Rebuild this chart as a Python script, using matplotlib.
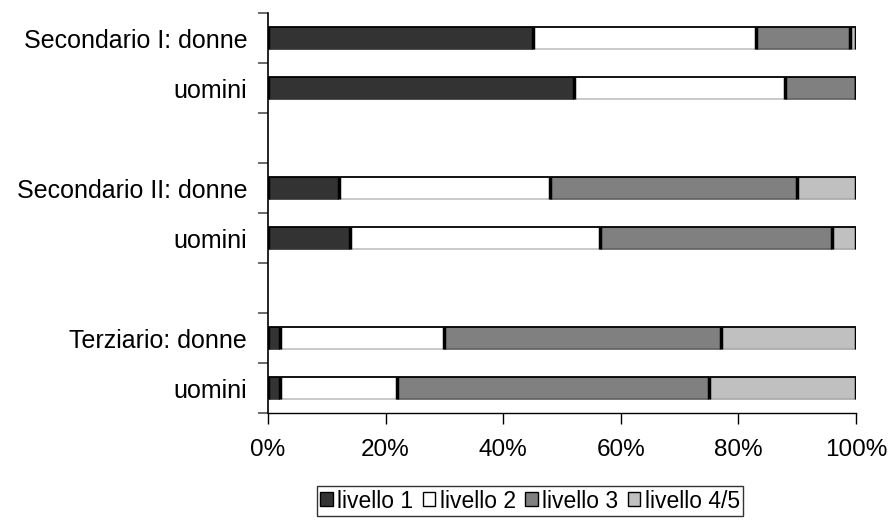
import matplotlib
matplotlib.use("Agg")
import matplotlib.pyplot as plt
import numpy as np

plt.rcParams['font.family'] = ['Liberation Sans', 'DejaVu Sans']

# Category slots (top to bottom); empty strings are spacer slots
categories = ["Secondario I: donne", "uomini", "",
              "Secondario II: donne", "uomini", "",
              "Terziario: donne", "uomini"]
series_names = ["livello 1", "livello 2", "livello 3", "livello 4/5"]
# Percentages per slot (None = spacer)
livello_1 = [45, 52, None, 12, 14, None, 2, 2]
livello_2 = [38, 36, None, 36, 42.5, None, 28, 20]
livello_3 = [16, 12, None, 42, 39.5, None, 47, 53]
livello_45 = [1, 0, None, 10, 4, None, 23, 25]
colors = ["#333333", "#ffffff", "#808080", "#c0c0c0"]
shade = ["#333333", "#c0c0c0", "#606060", "#a8a8a8"]
x_ticks = [0, 20, 40, 60, 80, 100]
x_labels = ["0%", "20%", "40%", "60%", "80%", "100%"]

fig = plt.figure(figsize=(8.93, 5.29), dpi=100)
ax = fig.add_axes([268 / 893, 1 - 413 / 529, (856 - 268) / 893, 400 / 529])

n = len(categories)
ypos = np.arange(n)
bar_h = 0.44
series = [livello_1, livello_2, livello_3, livello_45]
left = np.zeros(n)
handles = []
for name, vals, col, sh in zip(series_names, series, colors, shade):
    idx = [i for i, v in enumerate(vals) if v is not None]
    w = np.array([vals[i] for i in idx], dtype=float)
    y = ypos[idx]
    b = ax.barh(y, w, left=left[idx], height=bar_h, color=col,
                edgecolor="none", label=name, zorder=2)
    # lower edge of each segment in a darker shade of its fill
    ax.hlines(y + bar_h / 2, left[idx], left[idx] + w, color=sh, lw=1.2, zorder=3)
    left[idx] += w
    # dark separator at the right end of each segment
    ax.vlines(left[idx], y - bar_h / 2, y + bar_h / 2, color="black", lw=2.5, zorder=4)
    handles.append(b)

bars_idx = [i for i, c in enumerate(categories) if c]
ax.hlines(ypos[bars_idx] - bar_h / 2, 0, left[bars_idx], color="black", lw=1.3, zorder=4)
ax.vlines(np.zeros(len(bars_idx)), ypos[bars_idx] - bar_h / 2, ypos[bars_idx] + bar_h / 2,
          color="black", lw=2.5, zorder=4)

ax.set_xlim(0, 100)
ax.set_ylim(n - 0.5, -0.5)
ax.set_xticks(x_ticks)
ax.set_xticklabels(x_labels, fontsize=17.5)
ax.set_yticks(ypos)
ax.set_yticklabels(categories, fontsize=18)
ax.tick_params(axis="y", length=0, pad=15)
ax.set_yticks(np.arange(-0.5, n, 1.0), minor=True)
ax.tick_params(axis="y", which="minor", length=7, width=1.2, color="#505050", direction="out")
ax.tick_params(axis="x", length=8, width=1, color="black", direction="out", pad=11)
for s in ["top", "right"]:
    ax.spines[s].set_visible(False)
ax.spines["left"].set_color("black")
ax.spines["left"].set_linewidth(1.2)
ax.spines["bottom"].set_color("black")
ax.spines["bottom"].set_linewidth(1.0)

leg = fig.legend(handles=handles, loc="center", bbox_to_anchor=(530 / 893, 1 - 501 / 529),
                 ncol=4, frameon=True, fontsize=16.5, handlelength=0.55, handleheight=0.55,
                 handletextpad=0.2, columnspacing=0.4, borderpad=0.15, borderaxespad=0,
                 fancybox=False)
leg.get_frame().set_edgecolor("black")
leg.get_frame().set_linewidth(1.0)
for h in leg.legend_handles:
    h.set_edgecolor("black")
    h.set_linewidth(1.0)

fig.savefig("out.png", dpi=100)
